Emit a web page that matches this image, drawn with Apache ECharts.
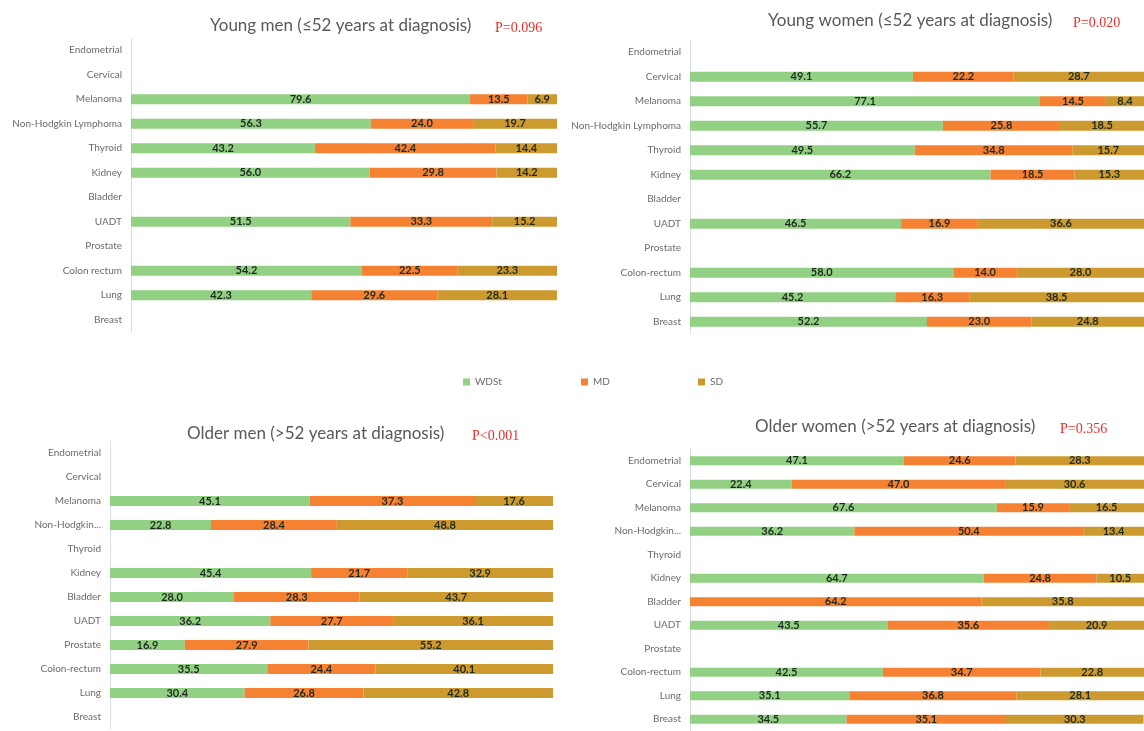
<!DOCTYPE html>
<html>
<head>
<meta charset="utf-8">
<script src="https://cdn.jsdelivr.net/npm/echarts@6/dist/echarts.min.js"></script>
<style>html,body{margin:0;padding:0;background:#fff;}#c{width:1144px;height:731px;}</style>
</head>
<body>
<div id="c"></div>
<script>
const categories = ['Endometrial','Cervical','Melanoma','Non-Hodgkin Lymphoma','Thyroid','Kidney','Bladder','UADT','Prostate','Colon-rectum','Lung','Breast'];
const categoriesYM = ['Endometrial','Cervical','Melanoma','Non-Hodgkin Lymphoma','Thyroid','Kidney','Bladder','UADT','Prostate','Colon rectum','Lung','Breast'];
const seriesNames = ['WDSt','MD','SD'];

const panelTitles = ['Young men (≤52 years at diagnosis)','Young women (≤52 years at diagnosis)','Older men (>52 years at diagnosis)','Older women (>52 years at diagnosis)'];
const pValues = ['P=0.096','P=0.020','P<0.001','P=0.356'];

// Young men
const ymWDSt = [null,null,79.6,56.3,43.2,56.0,null,51.5,null,54.2,42.3,null];
const ymMD   = [null,null,13.5,24.0,42.4,29.8,null,33.3,null,22.5,29.6,null];
const ymSD   = [null,null,6.9,19.7,14.4,14.2,null,15.2,null,23.3,28.1,null];
// Young women
const ywWDSt = [null,49.1,77.1,55.7,49.5,66.2,null,46.5,null,58.0,45.2,52.2];
const ywMD   = [null,22.2,14.5,25.8,34.8,18.5,null,16.9,null,14.0,16.3,23.0];
const ywSD   = [null,28.7,8.4,18.5,15.7,15.3,null,36.6,null,28.0,38.5,24.8];
// Older men
const omWDSt = [null,null,45.1,22.8,null,45.4,28.0,36.2,16.9,35.5,30.4,null];
const omMD   = [null,null,37.3,28.4,null,21.7,28.3,27.7,27.9,24.4,26.8,null];
const omSD   = [null,null,17.6,48.8,null,32.9,43.7,36.1,55.2,40.1,42.8,null];
// Older women
const owWDSt = [47.1,22.4,67.6,36.2,null,64.7,null,43.5,null,42.5,35.1,34.5];
const owMD   = [24.6,47.0,15.9,50.4,null,24.8,64.2,35.6,null,34.7,36.8,35.1];
const owSD   = [28.3,30.6,16.5,13.4,null,10.5,35.8,20.9,null,22.8,28.1,30.3];

const panelData = [[ymWDSt,ymMD,ymSD],[ywWDSt,ywMD,ywSD],[omWDSt,omMD,omSD],[owWDSt,owMD,owSD]];
const panelCats = [categoriesYM,categories,categories,categories];

const colors = ['#92D084','#F58233','#CC9A2F'];
const FONT = 'Lato, "Open Sans", sans-serif';

const grids = [
  {left:131, right:587, top:38, height:294},
  {left:690, right:0, top:40, height:294},
  {left:110, right:591, top:441, height:288},
  {left:690, right:0, top:449, height:282}
];
const titlePos = [
  {t:[205,12], p:[490,16]},
  {t:[763,7], p:[1068,11]},
  {t:[182,420], p:[467,424]},
  {t:[750,413], p:[1055,417]}
];
const labelTrunc = [null,null,68,68];

const title = [];
panelTitles.forEach((t,i)=>{
  title.push({text:t,left:titlePos[i].t[0],top:titlePos[i].t[1],textStyle:{fontFamily:FONT,fontSize:17,fontWeight:'normal',color:'#595959'}});
  title.push({text:pValues[i],left:titlePos[i].p[0],top:titlePos[i].p[1],textStyle:{fontFamily:'"Liberation Serif", "DejaVu Serif", serif',fontSize:14,fontWeight:'normal',color:'#E8302E'}});
});

const xAxis = grids.map((g,i)=>({type:'value',gridIndex:i,min:0,max:100,show:false}));
const yAxis = grids.map((g,i)=>({
  type:'category',gridIndex:i,data:panelCats[i],inverse:true,
  axisLine:{show:true,lineStyle:{color:'#D9DEE6',width:1}},
  axisTick:{show:false},
  axisLabel:Object.assign({color:'#6b6b6b',fontFamily:FONT,fontSize:10,margin:9},
    labelTrunc[i]?{width:labelTrunc[i],overflow:'truncate',ellipsis:'...'}:{})
}));

const series = [];
panelData.forEach((arrs,i)=>{
  arrs.forEach((arr,k)=>{
    series.push({
      type:'bar',name:seriesNames[k],xAxisIndex:i,yAxisIndex:i,stack:'p'+i,
      data:arr,barWidth:i===3?9:10,
      itemStyle:{color:colors[k]},
      label:{show:true,position:'inside',color:'#1f2a1f',fontFamily:FONT,fontSize:11,fontWeight:'bold',
        formatter:p=>p.value==null?'':Number(p.value).toFixed(1)},
      emphasis:{disabled:true},
      animation:false
    });
  });
});

const legendX = [458,576,693];
const legend = seriesNames.map((n,k)=>({
  data:[n],left:legendX[k],top:372,icon:'rect',itemWidth:7,itemHeight:7,itemGap:5,
  textStyle:{fontFamily:FONT,fontSize:10,color:'#6b6b6b'},selectedMode:false
}));

const chart = echarts.init(document.getElementById('c'));
chart.setOption({
  animation:false,
  backgroundColor:'#fff',
  color:colors,
  title, legend, grid:grids, xAxis, yAxis, series
});
</script>
</body>
</html>
